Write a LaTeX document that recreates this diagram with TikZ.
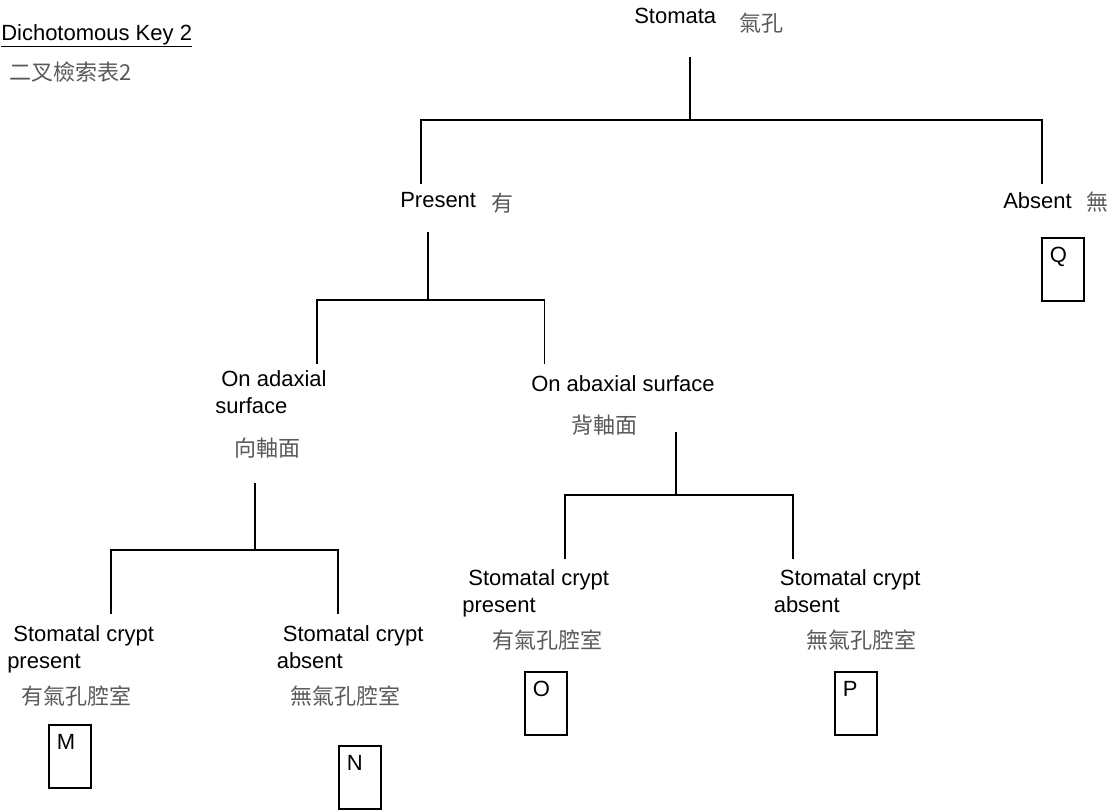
\documentclass[tikz,border=0pt]{standalone}
\usepackage{fontspec}
\setmainfont{Liberation Sans}
\newfontfamily\zhfont{Noto Sans CJK TC}
\usetikzlibrary{positioning}

\begin{document}
\begin{tikzpicture}[
        x=0.75pt, y=-0.75pt,
        lbl/.style = {inner sep=0, anchor=base west, align=left, font=\fontsize{16.5}{20}\selectfont},
        zh/.style = {inner sep=0, anchor=base west, text=black!65, font=\fontsize{16.5}{20}\selectfont\zhfont},
        leaf/.style = {draw, line width=1.3pt, inner sep=0, anchor=north west, minimum width=31.5pt,
            text width=19.5pt, align=left, text height=18.75pt, text depth=28.5pt, font=\fontsize{16.5}{20}\selectfont},
        edge/.style = {line width=1.3pt}
    ]
        \useasboundingbox (0,0) rectangle (1119,811);

        % Titre
        \node[lbl] (title) at (1,40) {\underline{Dichotomous Key 2}};
        \node[zh] (titlezh) at (9,80) {二叉檢索表2};

        % Premier niveau
        \node[lbl] (stom) at (634,23) {Stomata};
        \node[zh] (stomzh) at (739,31) {氣孔};
        \node[lbl] (pres) at (400,207) {Present};
        \node[zh] (preszh) at (491,211) {有};
        \node[lbl] (abs) at (1003,208) {Absent};
        \node[zh] (abszh) at (1086,210.5) {無};
        \node[leaf] (Q) at (1041,237) {Q};

        % Deuxième niveau (base = dernière ligne)
        \node[lbl] (ad) at (215,413.5) {~On adaxial\\surface};
        \node[zh] (adzh) at (234,456.5) {向軸面};
        \node[lbl] (ab) at (531,391) {On abaxial surface};
        \node[zh] (abzh) at (571,433.5) {背軸面};

        % Troisième niveau
        \node[lbl] (cpl) at (7,668.5) {~Stomatal crypt\\present};
        \node[zh] (cplzh) at (21,704.5) {有氣孔腔室};
        \node[leaf] (M) at (48,724) {M};
        \node[lbl] (cal) at (276.5,668.5) {~Stomatal crypt\\absent};
        \node[zh] (calzh) at (290,704.5) {無氣孔腔室};
        \node[leaf] (N) at (338,745) {N};
        \node[lbl] (cpr) at (462,612.5) {~Stomatal crypt\\present};
        \node[zh] (cprzh) at (492,648) {有氣孔腔室};
        \node[leaf] (O) at (524,671) {O};
        \node[lbl] (car) at (773.5,612.5) {~Stomatal crypt\\absent};
        \node[zh] (carzh) at (806,648) {無氣孔腔室};
        \node[leaf] (P) at (834,671) {P};

        % Points des embranchements
        \coordinate (stom-s) at (690,57);
        \coordinate (stom-f) at (690,120);
        \coordinate (pres-n) at (421,184);
        \coordinate (abs-n) at (1042,184);
        \coordinate (pres-s) at (428,232);
        \coordinate (pres-f) at (428,300);
        \coordinate (ad-n) at (317,364);
        \coordinate (ab-n) at (544.5,364);
        \coordinate (ad-s) at (255,483);
        \coordinate (ad-f) at (255,550);
        \coordinate (cpl-n) at (111,614);
        \coordinate (cal-n) at (338,614);
        \coordinate (ab-s) at (676,432);
        \coordinate (ab-f) at (676,495);
        \coordinate (cpr-n) at (565,559);
        \coordinate (car-n) at (793,559);

        % Embranchements
        \foreach \p/\l/\r in {stom/pres/abs, pres/ad/ab, ad/cpl/cal, ab/cpr/car} {
            \draw[edge] (\p-s) -- (\p-f);
            \draw[edge] (\l-n) |- (\p-f) -| (\r-n);
        }

    \end{tikzpicture}
\end{document}
